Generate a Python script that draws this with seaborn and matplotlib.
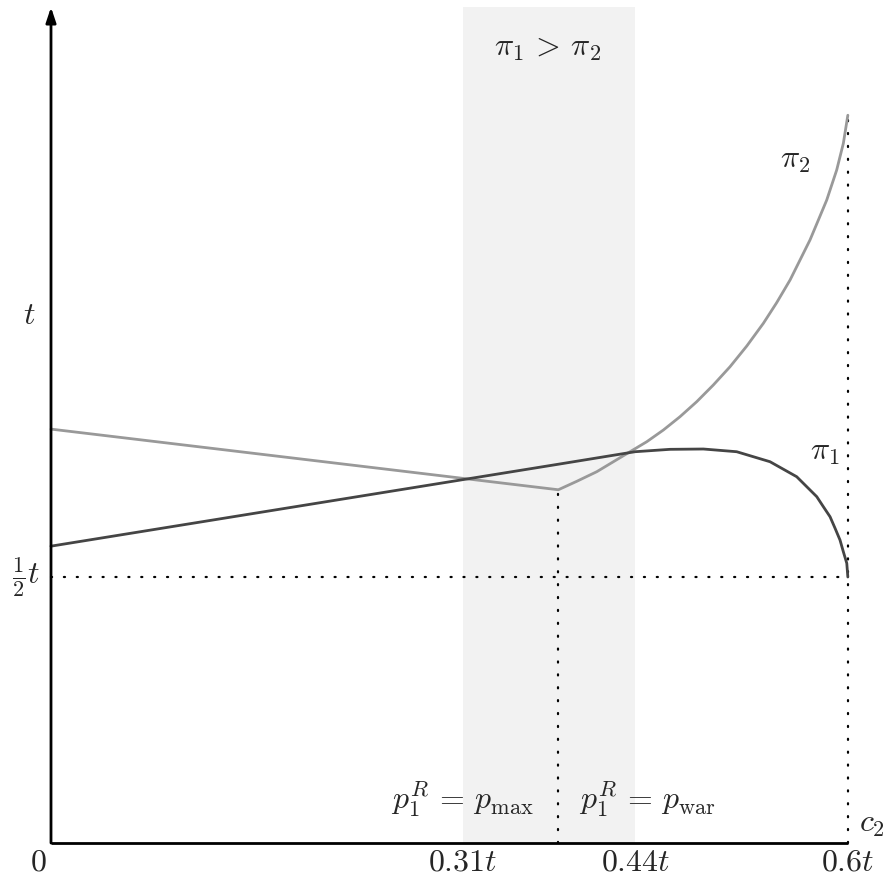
import matplotlib
matplotlib.use("Agg")
import matplotlib.pyplot as plt
import seaborn as sns
import pandas as pd

# c2 values (in units of t) and profits (in units of t)
pi1_c2 = [0.0, 0.382, 0.4398, 0.4661, 0.4912, 0.5163, 0.5414, 0.5615, 0.5766, 0.5816,
          0.5866, 0.5904, 0.5941, 0.5966, 0.5992, 0.6]
pi1_val = [0.558, 0.712, 0.7355, 0.740, 0.7406, 0.7355, 0.7167, 0.6885, 0.651, 0.632,
           0.6133, 0.5915, 0.5695, 0.5476, 0.5258, 0.5]

pi2_c2 = [0.0, 0.382, 0.396, 0.411, 0.436, 0.4486, 0.4611, 0.4736, 0.4862, 0.4987, 0.5113,
          0.5239, 0.5364, 0.5464, 0.5565, 0.5715, 0.5778, 0.5841, 0.5916, 0.5966, 0.6]
pi2_val = [0.778, 0.664, 0.680, 0.698, 0.7355, 0.7543, 0.7763, 0.8013, 0.8295, 0.8609, 0.8953,
           0.9342, 0.9769, 1.0156, 1.0583, 1.1335, 1.171, 1.2086, 1.265, 1.315, 1.368]

band = (0.31, 0.44)
kink_c2 = 0.382
x_ticks = [0.31, 0.44, 0.6]
x_tick_labels = [r"$0.31t$", r"$0.44t$", r"$0.6t$"]

sns.set_style("white")
plt.rcParams["mathtext.fontset"] = "cm"

fig = plt.figure(figsize=(8.93, 8.96), dpi=100)
ax = fig.add_axes([0, 0, 1, 1])
ax.set_xlim(-0.0384, 0.634)
ax.set_ylim(-0.0996, 1.5846)

y_top = 1.571
ax.axvspan(band[0], band[1], ymin=(0 + 0.0996) / 1.6842, ymax=(y_top + 0.0996) / 1.6842,
           color="#f2f2f2", lw=0, zorder=0)

# dotted guides
dots = dict(color="black", lw=1.6, linestyle=(0, (0.5, 5.3)), dash_capstyle="round", zorder=1)
ax.plot([0, 0.6], [0.5, 0.5], **dots)
ax.plot([kink_c2, kink_c2], [0, pi2_val[1]], **dots)
ax.plot([0.6, 0.6], [0, pi2_val[-1]], **dots)

df1 = pd.DataFrame({"c2": pi1_c2, "pi": pi1_val})
df2 = pd.DataFrame({"c2": pi2_c2, "pi": pi2_val})
sns.lineplot(data=df2, x="c2", y="pi", ax=ax, color="#999999", lw=2, sort=False, zorder=3)
sns.lineplot(data=df1, x="c2", y="pi", ax=ax, color="#454545", lw=2, sort=False, zorder=4)
ax.axis("off")

# axes
ax.plot([0, 0.6], [0, 0], color="black", lw=2, zorder=5, solid_capstyle="butt")
ax.annotate("", xy=(0, y_top), xytext=(0, 0),
            arrowprops=dict(arrowstyle="-|>,head_length=0.9,head_width=0.3", color="black", lw=2,
                            shrinkA=0, shrinkB=0), zorder=5)

fs = 23
ax.text(-0.0098, -0.036, r"$0$", fontsize=fs, ha="center", va="center")
for xv, lab in zip(x_ticks, x_tick_labels):
    ax.text(xv, -0.036, lab, fontsize=fs, ha="center", va="center")
ax.text(0.6085, 0.037, r"$c_2$", fontsize=fs, ha="left", va="center")
ax.text(-0.016, 0.992, r"$t$", fontsize=fs, ha="center", va="center")
ax.text(-0.019, 0.5, r"$\frac{1}{2}t$", fontsize=fs, ha="center", va="center")
ax.text(0.374, 1.496, r"$\pi_1\,>\,\pi_2$", fontsize=fs, ha="center", va="center")
ax.text(0.31, 0.083, r"$p_1^R\,=\,p_{\max}$", fontsize=fs, ha="center", va="center")
ax.text(0.449, 0.083, r"$p_1^R\,=\,p_{\mathrm{war}}$", fontsize=fs, ha="center", va="center")
ax.text(0.560, 1.284, r"$\pi_2$", fontsize=fs, ha="center", va="center")
ax.text(0.583, 0.735, r"$\pi_1$", fontsize=fs, ha="center", va="center")

plt.savefig("out.png", dpi=100)
